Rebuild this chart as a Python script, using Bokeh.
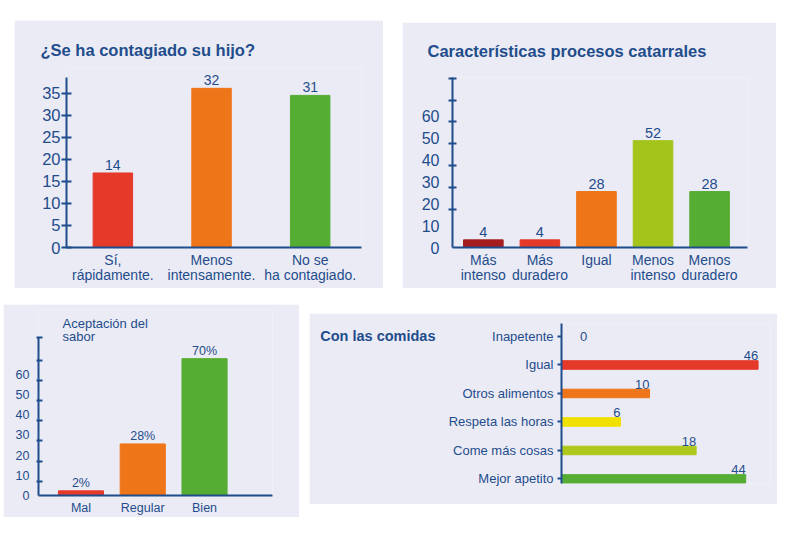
from bokeh.plotting import figure
from bokeh.models import Range1d, FixedTicker, Label, LabelSet, Spacer, ColumnDataSource, LinearAxis
from bokeh.layouts import row, column
from bokeh.embed import file_html
from bokeh.resources import INLINE
from bokeh.core.properties import value

FONT = "Liberation Sans"
BLUE = "#1F4D8C"
BG = "#EBEBF5"

# ---------------- data ----------------
c1_title = "¿Se ha contagiado su hijo?"
c1_cats = ["Sí,\nrápidamente.", "Menos\nintensamente.", "No se\nha contagiado."]
c1_heights = [16.9, 36.1, 34.5]
c1_labels = ["14", "32", "31"]
c1_colors = ["#E5392A", "#EE7518", "#56AD33"]
c1_ticks = [0, 5, 10, 15, 20, 25, 30, 35]

c2_title = "Características procesos catarrales"
c2_cats = ["Más\nintenso", "Más\nduradero", "Igual", "Menos\nintenso", "Menos\nduradero"]
c2_heights = [3.5, 3.5, 25.6, 48.9, 25.6]
c2_labels = ["4", "4", "28", "52", "28"]
c2_colors = ["#A51D20", "#E5392A", "#EE7518", "#A3C41B", "#56AD33"]
c2_tick_labels = [0, 10, 20, 30, 40, 50, 60]
c2_tick_marks = [17.5, 27.5, 37.5, 47.5, 57.5, 67.5, 77.5]

c3_title = ["Aceptación del", "sabor"]
c3_cats = ["Mal", "Regular", "Bien"]
c3_heights = [2.3, 25.5, 67.7]
c3_labels = ["2%", "28%", "70%"]
c3_colors = ["#E5392A", "#EE7518", "#56AD33"]
c3_tick_labels = [0, 10, 20, 30, 40, 50, 60]
c3_tick_marks = [7, 17, 27, 37, 47, 57, 67, 78]

c4_title = "Con las comidas"
c4_cats = ["Inapetente", "Igual", "Otros alimentos", "Respeta las horas", "Come más cosas", "Mejor apetito"]
c4_lengths = [0, 46, 20.6, 13.8, 31.5, 43.1]
c4_labels = ["0", "46", "10", "6", "18", "44"]
c4_colors = ["#E5392A", "#E5392A", "#EE7518", "#F0E100", "#B0C81C", "#56AD33"]


def base_fig(w, h, bl, br, bt, bb, xr, yr):
    p = figure(width=w, height=h, x_range=xr, y_range=yr, output_backend="svg",
               toolbar_location=None, min_border_left=bl, min_border_right=br,
               min_border_top=bt, min_border_bottom=bb)
    p.background_fill_color = BG
    p.border_fill_color = BG
    p.outline_line_color = None
    p.xgrid.visible = False
    p.ygrid.visible = False
    for ax in (p.xaxis[0], p.yaxis[0]):
        ax.axis_line_color = BLUE
        ax.axis_line_width = 2
        ax.major_label_text_color = BLUE
        ax.major_label_text_font = FONT
        ax.minor_tick_line_color = None
    return p


def set_title(p, text, offset, standoff, size):
    p.title.text = text
    p.title.align = "left"
    p.title.offset = offset
    p.title.standoff = standoff
    p.title.text_font = FONT
    p.title.text_font_size = size
    p.title.text_font_style = "bold"
    p.title.text_color = BLUE


def canvas_label(p, text, x, y, size, bold=True):
    p.add_layout(Label(x=x, y=y, x_units="canvas", y_units="canvas", text=text,
                       text_font=FONT, text_font_size=size, text_color=BLUE,
                       text_font_style="bold" if bold else "normal",
                       text_baseline="middle", text_align="left"))


def vbars(p, cats, heights, labels, colors, width, size, off):
    idx = list(range(len(cats)))
    src = ColumnDataSource(dict(x=idx, top=heights, label=labels, color=colors))
    p.vbar(x="x", top="top", width=width, color="color", source=src)
    p.add_layout(LabelSet(x="x", y="top", text="label", source=src, y_offset=off,
                          text_align="center", text_baseline="alphabetic",
                          text_font=value(FONT), text_font_size=value(size),
                          text_color=value(BLUE)))
    p.xaxis.ticker = FixedTicker(ticks=idx)
    p.xaxis.major_label_overrides = {i: c for i, c in enumerate(cats)}
    p.xaxis.major_tick_line_color = None
    p.xaxis.major_tick_out = 0
    p.xaxis.major_tick_in = 0
    p.xaxis.major_label_text_line_height = 0.95


# ---------------- chart 1 ----------------
p1 = base_fig(369, 268, 52, 22, 48, 41, Range1d(-0.47, 2.52), Range1d(0, 40.6))
vbars(p1, c1_cats, c1_heights, c1_labels, c1_colors, 0.4, "14px", 3)
p1.xaxis.major_label_text_font_size = "14px"
p1.xaxis.major_label_standoff = 4
p1.yaxis.ticker = FixedTicker(ticks=c1_ticks)
p1.yaxis.bounds = (0, 38.6)
p1.yaxis.major_label_text_font_size = "16.5px"
p1.yaxis.major_tick_line_color = BLUE
p1.yaxis.major_tick_line_width = 2
p1.yaxis.major_tick_in = 5
p1.yaxis.major_tick_out = 5
p1.yaxis.major_label_standoff = 1
set_title(p1, c1_title, -26, 20, "16.5px")

# ---------------- chart 2 ----------------
p2 = base_fig(374, 266, 50, 29, 55, 41, Range1d(-0.545, 4.67), Range1d(0, 77.8))
vbars(p2, c2_cats, c2_heights, c2_labels, c2_colors, 0.7, "14.5px", 3)
p2.xaxis.major_label_text_font_size = "14px"
p2.xaxis.major_label_standoff = 4
p2.yaxis.ticker = FixedTicker(ticks=c2_tick_labels, minor_ticks=c2_tick_marks)
p2.yaxis.major_label_text_font_size = "16px"
p2.yaxis.major_tick_line_color = None
p2.yaxis.major_tick_in = 0
p2.yaxis.major_tick_out = 0
p2.yaxis.minor_tick_line_color = BLUE
p2.yaxis.minor_tick_line_width = 2
p2.yaxis.minor_tick_in = 4
p2.yaxis.minor_tick_out = 4
p2.yaxis.major_label_standoff = 9
set_title(p2, c2_title, -25, 35, "16.5px")

# ---------------- chart 3 ----------------
p3 = base_fig(296, 213, 35, 27, 5, 21, Range1d(-0.687, 3.1), Range1d(0, 92))
vbars(p3, c3_cats, c3_heights, c3_labels, c3_colors, 0.73, "12.5px", 4)
p3.xaxis.major_label_text_font_size = "12.5px"
p3.xaxis.major_label_standoff = 5
p3.yaxis.ticker = FixedTicker(ticks=c3_tick_labels, minor_ticks=c3_tick_marks)
p3.yaxis.bounds = (0, 78)
p3.yaxis.major_label_text_font_size = "12.5px"
p3.yaxis.major_tick_line_color = None
p3.yaxis.major_tick_in = 0
p3.yaxis.major_tick_out = 0
p3.yaxis.minor_tick_line_color = BLUE
p3.yaxis.minor_tick_line_width = 2
p3.yaxis.minor_tick_in = 4
p3.yaxis.minor_tick_out = 2
p3.yaxis.major_label_standoff = 7
canvas_label(p3, c3_title[0], 59, 19, "13px", bold=False)
canvas_label(p3, c3_title[1], 59, 32, "13px", bold=False)

# ---------------- chart 4 ----------------
n4 = len(c4_cats)
p4 = base_fig(468, 191, 252, 7, 10, 21, Range1d(0, 48.9), Range1d(n4 - 1 + 0.16, -0.456))
idx4 = list(range(n4))
lab_x = [max(v, 6.0) for v in c4_lengths]
lab_dy = [0 if v == 0 else 9 for v in c4_lengths]
src4 = ColumnDataSource(dict(y=idx4, right=c4_lengths, color=c4_colors))
p4.hbar(y="y", right="right", left=0, height=0.3, color="color", source=src4)
for i in idx4:
    p4.add_layout(Label(x=lab_x[i], y=idx4[i], y_offset=lab_dy[i], text=c4_labels[i],
                        text_align="right", text_baseline="alphabetic",
                        text_font=FONT, text_font_size="13px", text_color=BLUE))
p4.xaxis.visible = False
p4.yaxis.ticker = FixedTicker(ticks=idx4)
p4.yaxis.major_label_overrides = {i: c for i, c in enumerate(c4_cats)}
p4.yaxis.major_label_text_font_size = "13px"
p4.yaxis.major_tick_line_color = BLUE
p4.yaxis.major_tick_line_width = 2
p4.yaxis.major_tick_in = 0
p4.yaxis.major_tick_out = 4
p4.yaxis.major_label_standoff = 4
# heading of this panel, placed at the level of the first category
head = LinearAxis(ticker=FixedTicker(ticks=[0]), major_label_overrides={0: c4_title},
                  axis_line_color=None, major_tick_line_color=None, minor_tick_line_color=None,
                  major_tick_in=0, major_tick_out=0, major_label_standoff=10,
                  major_label_text_font=FONT, major_label_text_font_size="14.5px",
                  major_label_text_font_style="bold", major_label_text_color=BLUE)
p4.add_layout(head, "left")

layout = column(
    row(Spacer(width=14), column(Spacer(height=20), p1), Spacer(width=19),
        column(Spacer(height=22), p2)),
    row(Spacer(width=3), column(Spacer(height=16), p3), Spacer(width=10),
        column(Spacer(height=25), p4)),
)

open("out.html", "w").write(file_html(layout, INLINE))
